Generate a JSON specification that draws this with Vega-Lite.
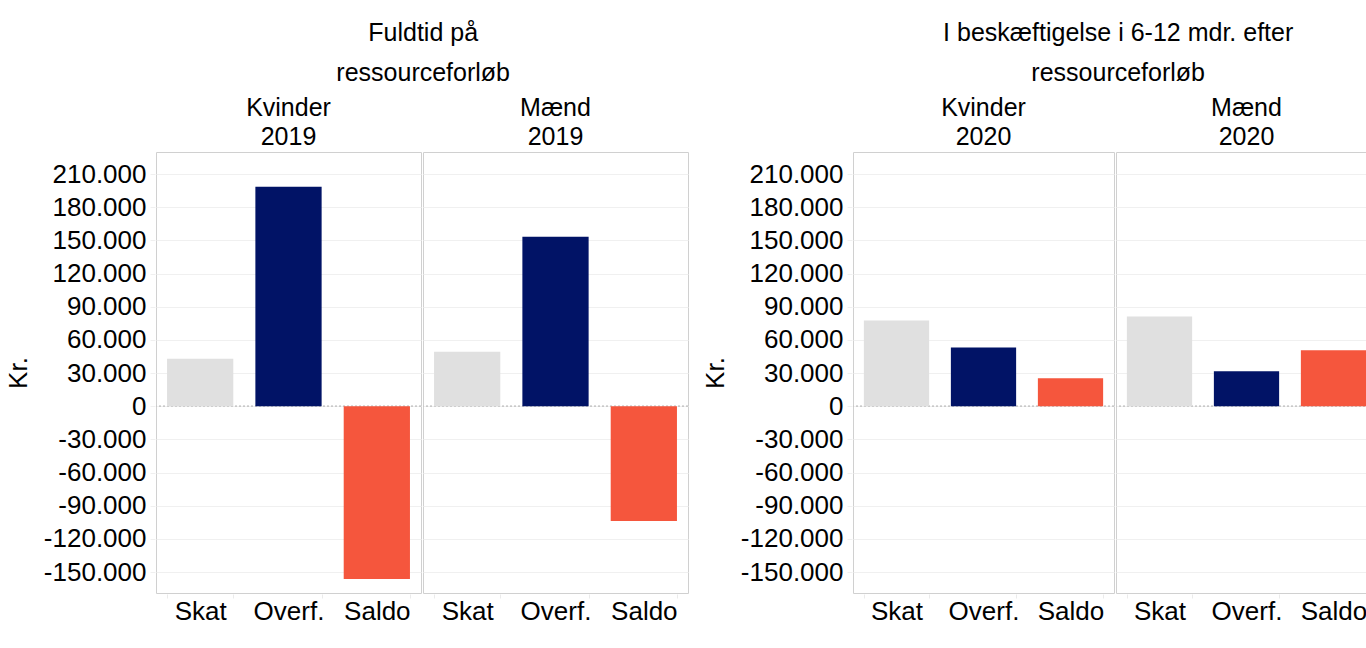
{
  "$schema": "https://vega.github.io/schema/vega-lite/v6.json",
  "padding": {"left": 5, "top": 21, "right": 0, "bottom": 0},
  "background": "white",
  "data": {
    "values": [
      {"gruppe": "Fuldtid", "panel": "Kvinder 2019", "post": "Skat", "vaerdi": 42850},
      {"gruppe": "Fuldtid", "panel": "Kvinder 2019", "post": "Overf.", "vaerdi": 198500},
      {"gruppe": "Fuldtid", "panel": "Kvinder 2019", "post": "Saldo", "vaerdi": -156300},
      {"gruppe": "Fuldtid", "panel": "Mænd 2019", "post": "Skat", "vaerdi": 49200},
      {"gruppe": "Fuldtid", "panel": "Mænd 2019", "post": "Overf.", "vaerdi": 153300},
      {"gruppe": "Fuldtid", "panel": "Mænd 2019", "post": "Saldo", "vaerdi": -103800},
      {"gruppe": "Beskæftigelse", "panel": "Kvinder 2020", "post": "Skat", "vaerdi": 77500},
      {"gruppe": "Beskæftigelse", "panel": "Kvinder 2020", "post": "Overf.", "vaerdi": 53200},
      {"gruppe": "Beskæftigelse", "panel": "Kvinder 2020", "post": "Saldo", "vaerdi": 25400},
      {"gruppe": "Beskæftigelse", "panel": "Mænd 2020", "post": "Skat", "vaerdi": 81100},
      {"gruppe": "Beskæftigelse", "panel": "Mænd 2020", "post": "Overf.", "vaerdi": 31700},
      {"gruppe": "Beskæftigelse", "panel": "Mænd 2020", "post": "Saldo", "vaerdi": 50600}
    ]
  },
  "spacing": 13,
  "hconcat": [
    {
      "transform": [{"filter": "datum.gruppe === 'Fuldtid'"}],
      "title": {"text": ["Fuldtid på", "ressourceforløb"], "dx": 76},
      "facet": {
        "column": {
          "field": "panel", "type": "nominal",
          "header": {"title": null, "labelExpr": "split(datum.value, ' ')"}
        }
      },
      "spacing": 0,
      "spec": {
        "width": 265,
        "height": 441,
        "layer": [
          {
            "mark": {"type": "rule", "strokeDash": [2, 2], "color": "#c8c8c8", "strokeWidth": 1},
            "encoding": {"y": {"datum": 0, "type": "quantitative", "title": "Kr."}}
          },
          {
            "mark": {"type": "bar"},
            "encoding": {
              "x": {
                "field": "post", "type": "nominal", "sort": ["Skat", "Overf.", "Saldo"],
                "scale": {"paddingInner": 0.25, "paddingOuter": 0.125},
                "axis": {"title": null, "labelAngle": 0, "labelFontSize": 26, "ticks": true, "tickBand": "extent", "tickSize": 4, "tickColor": "#ebebeb", "domain": false, "labelPadding": 0, "grid": false}
              },
              "y": {
                "field": "vaerdi", "type": "quantitative",
                "scale": {"domain": [-169000, 230000], "nice": false},
                "axis": {
                  "values": [-150000, -120000, -90000, -60000, -30000, 0, 30000, 60000, 90000, 120000, 150000, 180000, 210000],
                  "tickCount": 30,
                  "labelExpr": "replace(replace(format(datum.value, ','), ',', '.'), '−', '-')",
                  "title": "Kr."
                }
              },
              "color": {
                "field": "post", "type": "nominal",
                "scale": {"domain": ["Skat", "Overf.", "Saldo"], "range": ["#e0e0e0", "#011366", "#f5563d"]},
                "legend": null
              }
            }
          }
        ]
      }
    },
    {
      "transform": [{"filter": "datum.gruppe === 'Beskæftigelse'"}],
      "title": {"text": ["I beskæftigelse i 6-12 mdr. efter", "ressourceforløb"], "dx": 78},
      "facet": {
        "column": {
          "field": "panel", "type": "nominal",
          "header": {"title": null, "labelExpr": "split(datum.value, ' ')"}
        }
      },
      "spacing": 0,
      "spec": {
        "width": 261,
        "height": 441,
        "layer": [
          {
            "mark": {"type": "rule", "strokeDash": [2, 2], "color": "#c8c8c8", "strokeWidth": 1},
            "encoding": {"y": {"datum": 0, "type": "quantitative", "title": "Kr."}}
          },
          {
            "mark": {"type": "bar"},
            "encoding": {
              "x": {
                "field": "post", "type": "nominal", "sort": ["Skat", "Overf.", "Saldo"],
                "scale": {"paddingInner": 0.25, "paddingOuter": 0.125},
                "axis": {"title": null, "labelAngle": 0, "labelFontSize": 26, "ticks": true, "tickBand": "extent", "tickSize": 4, "tickColor": "#ebebeb", "domain": false, "labelPadding": 0, "grid": false}
              },
              "y": {
                "field": "vaerdi", "type": "quantitative",
                "scale": {"domain": [-169000, 230000], "nice": false},
                "axis": {
                  "values": [-150000, -120000, -90000, -60000, -30000, 0, 30000, 60000, 90000, 120000, 150000, 180000, 210000],
                  "tickCount": 30,
                  "labelExpr": "replace(replace(format(datum.value, ','), ',', '.'), '−', '-')",
                  "title": "Kr."
                }
              },
              "color": {
                "field": "post", "type": "nominal",
                "scale": {"domain": ["Skat", "Overf.", "Saldo"], "range": ["#e0e0e0", "#011366", "#f5563d"]},
                "legend": null
              }
            }
          }
        ]
      }
    }
  ],
  "resolve": {"scale": {"y": "independent"}},
  "config": {
    "font": "Liberation Sans",
    "view": {"stroke": "#d0d0d0", "strokeWidth": 1},
    "title": {"fontSize": 25, "fontWeight": "normal", "color": "#000000", "lineHeight": 40, "anchor": "middle", "offset": 10},
    "header": {"labelFontSize": 25, "labelColor": "#000000", "labelLineHeight": 29, "labelPadding": 1},
    "axisY": {
      "labelFontSize": 26, "labelColor": "#000000", "grid": true, "gridColor": "#f0f0f0", "domain": false,
      "ticks": true, "tickColor": "#f0f0f0", "tickSize": 5, "labelPadding": 4, "labelOverlap": false,
      "titleFontSize": 26, "titleFontWeight": "normal", "titleColor": "#000000", "titlePadding": 12
    },
    "axisX": {"labelColor": "#000000"}
  }
}
